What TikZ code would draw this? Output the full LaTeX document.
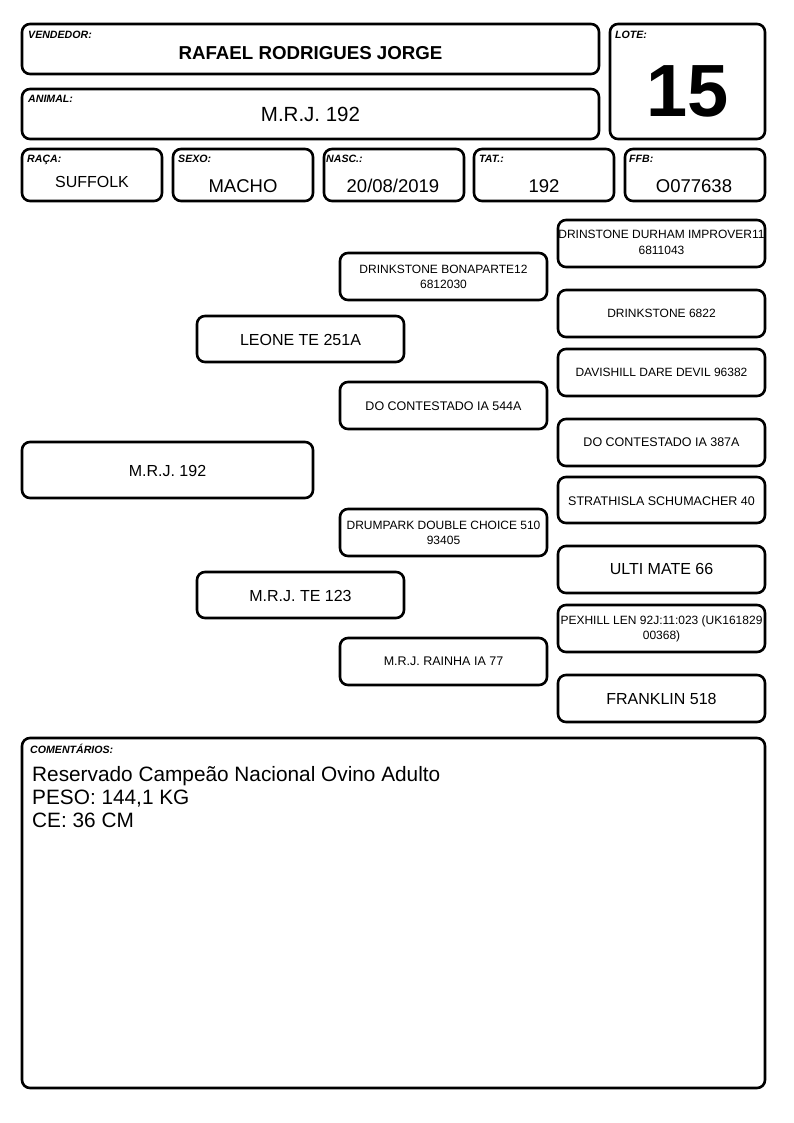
\documentclass[tikz,border=0pt]{standalone}
\usepackage{fontspec}
\setmainfont{Liberation Sans}
\usetikzlibrary{fit}
\newcommand\myfs[1]{\fontsize{#1}{#1}\selectfont}
\begin{document}
\begin{tikzpicture}[x=1pt,y=-1pt,
  box/.style={draw=black, line width=2.6pt, rounded corners=8pt, inner sep=0pt},
  lab/.style={anchor=base west, inner sep=0pt, font=\myfs{10.6}\bfseries\itshape},
  val/.style={anchor=base, inner sep=0pt},
  vsm/.style={val, font=\myfs{12}},
  vmd/.style={val, font=\myfs{16}},
  vrw/.style={val, font=\myfs{18.5}}]
\useasboundingbox[fill=white] (0,0) rectangle (794,1123);
% header boxes
\node[box, fit={(22,24) (599,74)}] (vend) {};
\node[box, fit={(610,24) (765,139)}] (lote) {};
\node[box, fit={(22,89) (599,139)}] (anim) {};
\node[box, fit={(22,149) (162,201)}] (raca) {};
\node[box, fit={(173,149) (313,201)}] (sexo) {};
\node[box, fit={(324,149) (464,201)}] (nasc) {};
\node[box, fit={(474,149) (614,201)}] (tat) {};
\node[box, fit={(625,149) (765,201)}] (ffb) {};
% labels
\node[lab] (vendL) at (28,39) {VENDEDOR:};
\node[lab] (loteL) at (615,39) {LOTE:};
\node[lab] (animL) at (28,103) {ANIMAL:};
\node[lab] (racaL) at (27,163) {RAÇA:};
\node[lab] (sexoL) at (178,163) {SEXO:};
\node[lab] (nascL) at (326,163) {NASC.:};
\node[lab] (tatL) at (479,163) {TAT.:};
\node[lab] (ffbL) at (629,163) {FFB:};
% values
\node[val, font=\myfs{18.7}\bfseries] (vendV) at (310.5,60) {RAFAEL RODRIGUES JORGE};
\node[val, font=\myfs{74}\bfseries] (loteV) at (687.5,117) {15};
\node[val, font=\myfs{20.5}] (animV) at (310.5,122) {M.R.J. 192};
\node[vmd] (racaV) at (92,188) {SUFFOLK};
\node[vrw] (sexoV) at (243,193) {MACHO};
\node[vrw] (nascV) at (393,193) {20/08/2019};
\node[vrw] (tatV) at (544,193) {192};
\node[vrw] (ffbV) at (694,193) {O077638};
% pedigree boxes
\node[box, fit={(22,442) (313,498)}] (p1) {};
\node[box, fit={(197,316) (404,362)}] (p2a) {};
\node[box, fit={(197,572) (404,618)}] (p2b) {};
\node[box, fit={(340,253) (547,300)}] (p3a) {};
\node[box, fit={(340,382) (547,429)}] (p3b) {};
\node[box, fit={(340,509) (547,556)}] (p3c) {};
\node[box, fit={(340,638) (547,685)}] (p3d) {};
\node[box, fit={(558,220) (765,267)}] (g1) {};
\node[box, fit={(558,290) (765,337)}] (g2) {};
\node[box, fit={(558,349) (765,396)}] (g3) {};
\node[box, fit={(558,419) (765,466)}] (g4) {};
\node[box, fit={(558,477) (765,523)}] (g5) {};
\node[box, fit={(558,546) (765,593)}] (g6) {};
\node[box, fit={(558,605) (765,652)}] (g7) {};
\node[box, fit={(558,675) (765,722)}] (g8) {};
% pedigree texts
\node[vmd] (p1t) at (167.5,476.5) {M.R.J. 192};
\node[vmd] (p2at) at (300.5,345.5) {LEONE TE 251A};
\node[vmd] (p2bt) at (300.5,601.5) {M.R.J. TE 123};
\node[vsm] (p3at1) at (443.5,273) {DRINKSTONE BONAPARTE12};
\node[vsm] (p3at2) at (443.5,288) {6812030};
\node[vsm, font=\myfs{12.5}] (p3bt) at (443.5,410) {DO CONTESTADO IA 544A};
\node[vsm] (p3ct1) at (443.5,529.3) {DRUMPARK DOUBLE CHOICE 510};
\node[vsm] (p3ct2) at (443.5,544) {93405};
\node[vsm, font=\myfs{12.5}] (p3dt) at (443.5,665.5) {M.R.J. RAINHA IA 77};
\node[vsm] (g1t1) at (661.5,239) {DRINSTONE DURHAM IMPROVER11};
\node[vsm] (g1t2) at (661.5,254.5) {6811043};
\node[vsm] (g2t) at (661.5,317.5) {DRINKSTONE 6822};
\node[vsm] (g3t) at (661.5,376) {DAVISHILL DARE DEVIL 96382};
\node[vsm, font=\myfs{12.5}] (g4t) at (661.5,446) {DO CONTESTADO IA 387A};
\node[vsm, font=\myfs{12.5}] (g5t) at (661.5,505) {STRATHISLA SCHUMACHER 40};
\node[vmd] (g6t) at (661.5,574.5) {ULTI MATE 66};
\node[vsm] (g7t1) at (661.5,624) {PEXHILL LEN 92J:11:023 (UK161829};
\node[vsm] (g7t2) at (661.5,639) {00368)};
\node[vmd] (g8t) at (661.5,704.5) {FRANKLIN 518};
% comments
\node[box, fit={(22,738) (765,1088)}] (com) {};
\node[lab] (comL) at (30,753) {COMENTÁRIOS:};
\node[val, anchor=base west, font=\myfs{20.8}] (c1) at (32,781) {Reservado Campeão Nacional Ovino Adulto};
\node[val, anchor=base west, font=\myfs{20.8}] (c2) at (32,804) {PESO: 144,1 KG};
\node[val, anchor=base west, font=\myfs{20.8}] (c3) at (32,827.5) {CE: 36 CM};
\end{tikzpicture}
\end{document}
